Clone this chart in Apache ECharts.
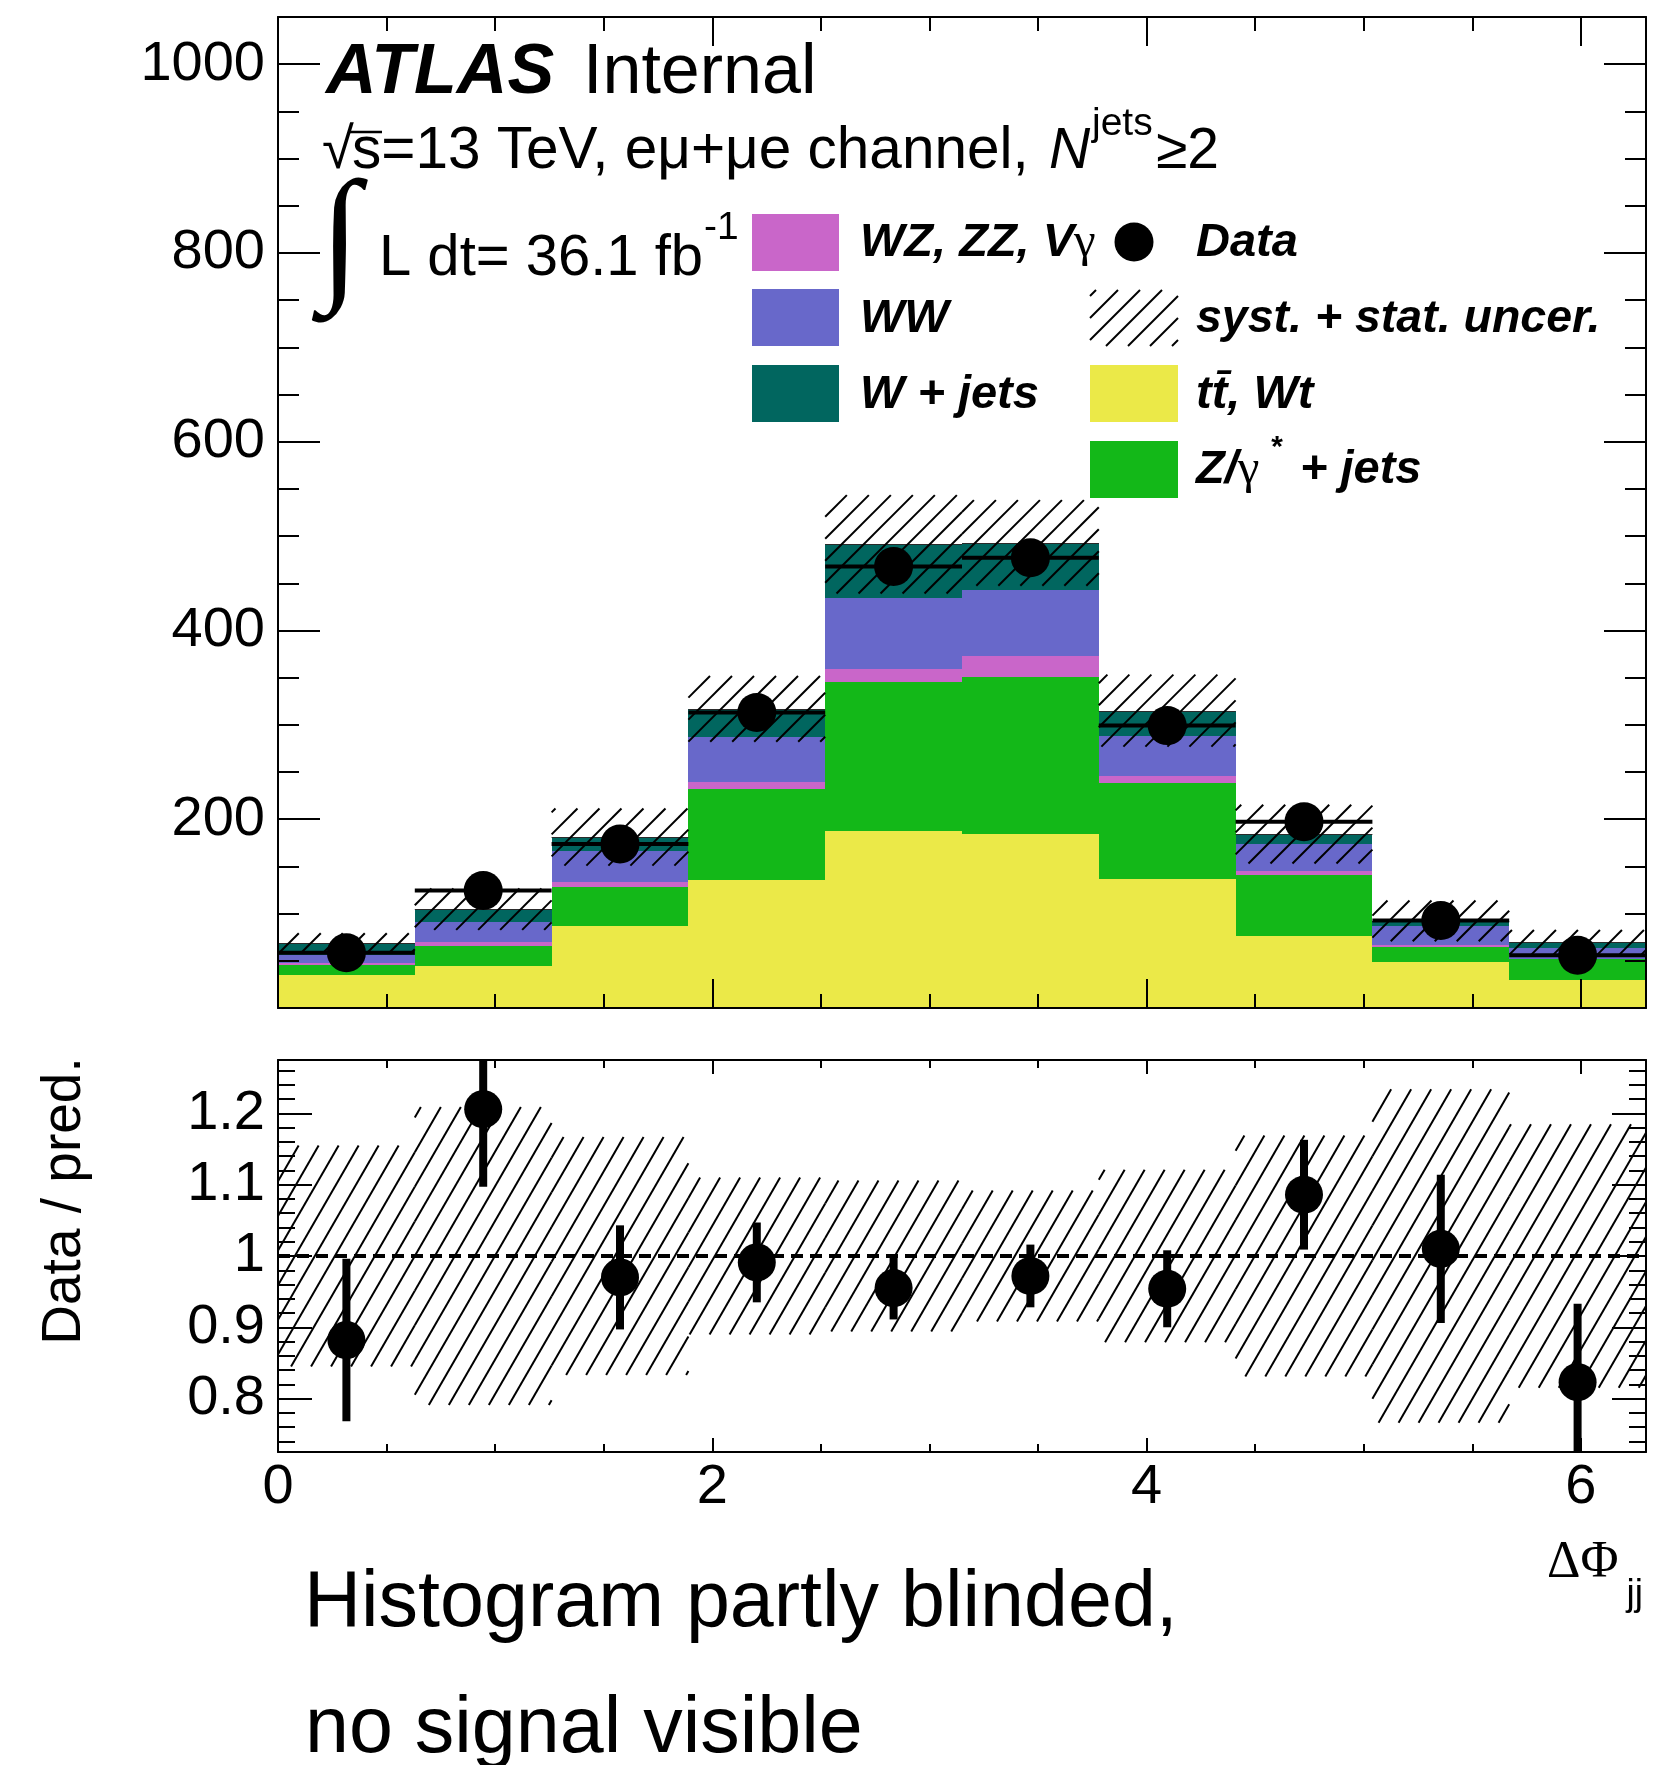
<!DOCTYPE html>
<html>
<head>
<meta charset="utf-8">
<script src="https://cdn.jsdelivr.net/npm/echarts@6/dist/echarts.min.js"></script>
<style>
  html, body { margin: 0; padding: 0; background: #ffffff; }
  #chart { width: 1676px; height: 1765px; }
</style>
</head>
<body>
<div id="chart"></div>
<script>
// Delta-phi(jj) binning: 10 bins
const binEdges = [0, 0.63, 1.26, 1.89, 2.52, 3.15, 3.78, 4.41, 5.04, 5.67, 6.3];

// Predicted yields per bin, stacked bottom to top
const ttbarWt = [35.0, 44.6, 87.0, 135.8, 187.2, 184.6, 136.9, 76.4, 49.2, 29.7];
const zJets   = [10.6, 21.2, 41.0, 95.8, 157.8, 166.5, 101.5, 64.0, 15.2, 21.9];
const diboson = [2.5, 4.2, 6.0, 7.6, 14.3, 21.5, 7.4, 5.0, 2.1, 0.7];
const wwProc  = [7.8, 21.2, 31.9, 47.8, 75.3, 69.9, 42.8, 28.2, 20.9, 11.0];
const wJets   = [12.7, 13.5, 15.2, 29.9, 56.7, 50.3, 26.5, 10.6, 4.9, 6.4];

// Observed events
const dataCounts = [58.5, 124.5, 173.7, 313.2, 467.7, 477.0, 299.2, 197.3, 92.8, 56.0];

// Relative syst.+stat. uncertainty of the prediction
const relUncert = [0.155, 0.209, 0.167, 0.110, 0.106, 0.092, 0.121, 0.169, 0.234, 0.185];

// Data / prediction and its statistical error
const ratioValues = [0.882, 1.206, 0.970, 0.991, 0.955, 0.972, 0.954, 1.086, 1.010, 0.823];
const ratioErrors = [0.114, 0.109, 0.073, 0.056, 0.044, 0.044, 0.054, 0.077, 0.104, 0.110];

// Axis ticks
const xMajorTicks = [0, 2, 4, 6];
const xMinorTicks = [0, 0.5, 1, 1.5, 2, 2.5, 3, 3.5, 4, 4.5, 5, 5.5, 6];
const yMajorTicks = [0, 200, 400, 600, 800, 1000];
const yLabelTicks = [200, 400, 600, 800, 1000];
const yMinorTicks = [0, 50, 100, 150, 200, 250, 300, 350, 400, 450, 500, 550, 600, 650, 700, 750, 800, 850, 900, 950, 1000, 1050];
const ratioMajorTicks = [0.8, 0.9, 1, 1.1, 1.2];
const ratioMinorTicks = [0.74, 0.76, 0.78, 0.8, 0.82, 0.84, 0.86, 0.88, 0.9, 0.92, 0.94, 0.96, 0.98, 1,
                         1.02, 1.04, 1.06, 1.08, 1.1, 1.12, 1.14, 1.16, 1.18, 1.2, 1.22, 1.24, 1.26];

const X_MAX = 6.3;
const Y_MAX = 1050;
const RATIO_MIN = 0.725;
const RATIO_MAX = 1.275;

const SANS = "'Liberation Sans', Arial, Helvetica, sans-serif";
const SERIF = "'Liberation Serif', 'Times New Roman', serif";

const layers = [
  { values: ttbarWt, color: '#ebe948' },
  { values: zJets,   color: '#13b818' },
  { values: diboson, color: '#c966c9' },
  { values: wwProc,  color: '#6868ca' },
  { values: wJets,   color: '#01665f' }
];

const nBins = binEdges.length - 1;
const binCenters = binEdges.slice(0, -1).map((lo, i) => (lo + binEdges[i + 1]) / 2);

// cumulative stack
const bases = [];
let running = new Array(nBins).fill(0);
layers.forEach(layer => {
  bases.push(running.slice());
  running = running.map((v, i) => v + layer.values[i]);
});
const totals = running;

// diagonal hatch lines clipped to a pixel rectangle, pattern anchored to the page
function hatchLines(x0, x1, yTop, yBot, angleDeg, spacing, width) {
  const k = Math.tan(angleDeg * Math.PI / 180);
  const step = spacing * k;
  const cMin = yTop + k * x0, cMax = yBot + k * x1;
  const out = [];
  for (let n = Math.ceil(cMin / step); n <= Math.floor(cMax / step); n++) {
    const c = n * step;
    const xa = Math.max(x0, (c - yBot) / k);
    const xb = Math.min(x1, (c - yTop) / k);
    if (xb - xa < 0.5) continue;
    out.push({
      type: 'line',
      shape: { x1: xa, y1: c - k * xa, x2: xb, y2: c - k * xb },
      style: { stroke: '#000', lineWidth: width, lineCap: 'butt' }
    });
  }
  return out;
}

function rectRenderer(color) {
  return function (params, api) {
    const a = api.coord([api.value(0), api.value(3)]);
    const b = api.coord([api.value(1), api.value(2)]);
    const x0 = Math.round(a[0]), x1 = Math.round(b[0]);
    const y0 = Math.round(a[1]), y1 = Math.round(b[1]);
    return { type: 'rect', shape: { x: x0, y: y0, width: x1 - x0, height: y1 - y0 }, style: { fill: color } };
  };
}

function hatchRenderer(angle, spacing) {
  return function (params, api) {
    const a = api.coord([api.value(0), api.value(3)]);
    const b = api.coord([api.value(1), api.value(2)]);
    return { type: 'group', children: hatchLines(a[0], b[0], a[1], b[1], angle, spacing, 2) };
  };
}

function tickStyle() { return { color: '#000', width: 2 }; }

function xAxesFor(grid, majorLen, minorLen, withLabels) {
  const make = (pos, ticks, len, line, labels) => ({
    type: 'value', gridIndex: grid, min: 0, max: X_MAX, position: pos, z: 10,
    splitLine: { show: false },
    axisLine: { show: line, onZero: false, lineStyle: { color: '#000', width: 2 } },
    axisTick: { show: true, inside: true, length: len, customValues: ticks, lineStyle: tickStyle() },
    axisLabel: labels ? {
      show: true, customValues: xMajorTicks, formatter: v => String(v),
      fontSize: 56, fontFamily: SANS, color: '#000', margin: 8
    } : { show: false }
  });
  return [
    make('bottom', xMajorTicks, majorLen, true, withLabels),
    make('bottom', xMinorTicks, minorLen, false, false),
    make('top', xMajorTicks, majorLen, true, false),
    make('top', xMinorTicks, minorLen, false, false)
  ];
}

function yAxesFor(grid, min, max, major, minor, labelValues, majorLen, minorLen) {
  const make = (pos, ticks, len, line, labels) => ({
    type: 'value', gridIndex: grid, min: min, max: max, position: pos, z: 10,
    splitLine: { show: false },
    axisLine: { show: line, onZero: false, lineStyle: { color: '#000', width: 2 } },
    axisTick: { show: true, inside: true, length: len, customValues: ticks, lineStyle: tickStyle() },
    axisLabel: labels ? {
      show: true, customValues: labelValues, formatter: v => String(v),
      fontSize: 56, fontFamily: SANS, color: '#000', margin: 13
    } : { show: false }
  });
  return [
    make('left', major, majorLen, true, true),
    make('left', minor, minorLen, false, false),
    make('right', major, majorLen, true, false),
    make('right', minor, minorLen, false, false)
  ];
}

const series = [];

// stacked predictions
layers.forEach((layer, li) => {
  series.push({
    type: 'custom', xAxisIndex: 0, yAxisIndex: 0, z: 2, silent: true,
    renderItem: rectRenderer(layer.color),
    data: layer.values.map((v, i) => [binEdges[i], binEdges[i + 1], bases[li][i], bases[li][i] + v])
  });
});

// outline of the total prediction
series.push({
  type: 'custom', xAxisIndex: 0, yAxisIndex: 0, z: 3, silent: true,
  renderItem: function (params, api) {
    const a = api.coord([api.value(0), api.value(2)]);
    const b = api.coord([api.value(1), api.value(2)]);
    return { type: 'line', shape: { x1: a[0], y1: Math.round(a[1]) + 0.5, x2: b[0], y2: Math.round(a[1]) + 0.5 }, style: { stroke: '#2a2a2a', lineWidth: 1 } };
  },
  data: totals.map((t, i) => [binEdges[i], binEdges[i + 1], t])
});

// uncertainty band on the prediction
series.push({
  type: 'custom', xAxisIndex: 0, yAxisIndex: 0, z: 4, silent: true,
  renderItem: hatchRenderer(45, 22),
  data: totals.map((t, i) => [binEdges[i], binEdges[i + 1], t * (1 - relUncert[i]), t * (1 + relUncert[i])])
});

// data: horizontal bin-width bars
series.push({
  type: 'custom', xAxisIndex: 0, yAxisIndex: 0, z: 5, silent: true,
  renderItem: function (params, api) {
    const a = api.coord([api.value(0), api.value(2)]);
    const b = api.coord([api.value(1), api.value(2)]);
    return { type: 'line', shape: { x1: a[0], y1: a[1], x2: b[0], y2: b[1] }, style: { stroke: '#000', lineWidth: 4 } };
  },
  data: dataCounts.map((d, i) => [binEdges[i], binEdges[i + 1], d])
});

// data points
series.push({
  type: 'scatter', xAxisIndex: 0, yAxisIndex: 0, z: 6, silent: true,
  symbol: 'circle', symbolSize: 39, itemStyle: { color: '#000', opacity: 1 },
  data: dataCounts.map((d, i) => [binCenters[i], d])
});

// ratio panel: relative uncertainty band
series.push({
  type: 'custom', xAxisIndex: 4, yAxisIndex: 4, z: 3, silent: true,
  renderItem: hatchRenderer(60, 20),
  data: relUncert.map((u, i) => [binEdges[i], binEdges[i + 1], 1 - u, 1 + u])
});

// ratio panel: error bars
series.push({
  type: 'custom', xAxisIndex: 4, yAxisIndex: 4, z: 5, silent: true,
  renderItem: function (params, api) {
    const a = api.coord([api.value(0), api.value(1)]);
    const b = api.coord([api.value(0), api.value(2)]);
    return { type: 'line', shape: { x1: a[0], y1: a[1], x2: b[0], y2: b[1] }, style: { stroke: '#000', lineWidth: 8 } };
  },
  data: ratioValues.map((r, i) => [binCenters[i],
    Math.max(RATIO_MIN, r - ratioErrors[i]), Math.min(RATIO_MAX, r + ratioErrors[i])])
});

// ratio panel: points and unity line
series.push({
  type: 'scatter', xAxisIndex: 4, yAxisIndex: 4, z: 6, silent: true,
  symbol: 'circle', symbolSize: 38, itemStyle: { color: '#000', opacity: 1 },
  data: ratioValues.map((r, i) => [binCenters[i], r]),
  markLine: {
    silent: true, symbol: 'none', animation: false, z: 4,
    label: { show: false },
    lineStyle: { color: '#000', width: 4, type: [12, 7] },
    data: [{ yAxis: 1 }]
  }
});

// ---------- text and legend ----------
function text(str, x, y, size, o) {
  o = o || {};
  return {
    type: 'text', x: x, y: y, z: 100, rotation: o.rotation || 0, silent: true,
    style: {
      text: str, fill: '#000', fontSize: size, fontFamily: o.family || SANS,
      fontWeight: o.weight || 'normal', fontStyle: o.style || 'normal',
      align: o.align || 'left', textAlign: o.align || 'left',
      verticalAlign: 'middle', textVerticalAlign: 'middle',
      rich: o.rich
    }
  };
}

const legendFont = 47;
const boldItalic = { weight: 'bold', style: 'italic' };
const richLegend = {
  b: { fontSize: legendFont, fontFamily: SANS, fontWeight: 'bold', fontStyle: 'italic', fill: '#000' },
  g: { fontSize: legendFont + 2, fontFamily: SERIF, fontWeight: 'normal', fontStyle: 'normal', fill: '#000' }
};

const graphics = [
  // experiment label
  text('ATLAS', 326, 74, 70, boldItalic),
  text('Internal', 583, 74, 70),
  // centre-of-mass energy and channel
  text('\u221A', 322, 152, 58),
  { type: 'line', z: 100, shape: { x1: 349, y1: 132, x2: 382, y2: 132 }, style: { stroke: '#000', lineWidth: 2.5 } },
  text('s=13 TeV, e\u03BC+\u03BCe channel,', 352, 152, 58.5),
  text('N', 1049, 152, 57, { style: 'italic' }),
  text('jets', 1092, 124, 39),
  text('\u22652', 1156, 152, 57),
  // luminosity
  text('\u222B', 340, 244, 148, { family: SERIF, align: 'center' }),
  text('L dt= 36.1 fb', 379, 259, 58),
  text('-1', 704, 228, 39),

  // legend, left column
  { type: 'rect', z: 100, shape: { x: 752, y: 214, width: 87, height: 57 }, style: { fill: layers[2].color } },
  { type: 'rect', z: 100, shape: { x: 752, y: 289, width: 87, height: 57 }, style: { fill: layers[3].color } },
  { type: 'rect', z: 100, shape: { x: 752, y: 365, width: 87, height: 57 }, style: { fill: layers[4].color } },
  text('{b|WZ, ZZ, V}{g|\u03B3}', 860, 243, legendFont, { rich: richLegend }),
  text('WW', 860, 319, legendFont, boldItalic),
  text('W + jets', 860, 395, legendFont, boldItalic),

  // legend, right column
  { type: 'circle', z: 100, shape: { cx: 1134, cy: 242, r: 19.5 }, style: { fill: '#000' } },
  { type: 'group', z: 100, children: hatchLines(1090, 1178, 290, 346, 45, 22, 2) },
  { type: 'rect', z: 100, shape: { x: 1090, y: 365, width: 88, height: 57 }, style: { fill: layers[0].color } },
  { type: 'rect', z: 100, shape: { x: 1090, y: 441, width: 88, height: 57 }, style: { fill: layers[1].color } },
  text('Data', 1196, 243, legendFont, boldItalic),
  text('syst. + stat. uncer.', 1196, 319, 46.5, boldItalic),
  text('tt\u0304, Wt', 1196, 395, legendFont, boldItalic),
  text('{b|Z/}{g|\u03B3}', 1196, 470, legendFont, { rich: richLegend }),
  text('*', 1270, 448, 30, boldItalic),
  text('+ jets', 1300, 470, legendFont, boldItalic),

  // ratio axis title
  text('Data / pred.', 65, 1201, 55, { rotation: Math.PI / 2, align: 'center' }),
  // x axis title
  text('\u0394\u03A6', 1547, 1563, 52, { family: SERIF }),
  text('jj', 1643, 1595, 37, { align: 'right' }),

  // caption
  text('Histogram partly blinded,', 304, 1604, 79),
  text('no signal visible', 305, 1730, 79)
];

const option = {
  backgroundColor: '#ffffff',
  animation: false,
  grid: [
    { left: 278, top: 17, width: 1368, height: 991, containLabel: false },
    { left: 278, top: 1060, width: 1368, height: 392, containLabel: false }
  ],
  xAxis: xAxesFor(0, 29, 14, false).concat(xAxesFor(1, 14, 8, true)),
  yAxis: yAxesFor(0, 0, Y_MAX, yMajorTicks, yMinorTicks, yLabelTicks, 42, 21)
    .concat(yAxesFor(1, RATIO_MIN, RATIO_MAX, ratioMajorTicks, ratioMinorTicks, ratioMajorTicks, 34, 17)),
  series: series,
  graphic: { elements: graphics }
};

const chart = echarts.init(document.getElementById('chart'), null, { renderer: 'canvas', width: 1676, height: 1765 });
chart.setOption(option);
</script>
</body>
</html>
